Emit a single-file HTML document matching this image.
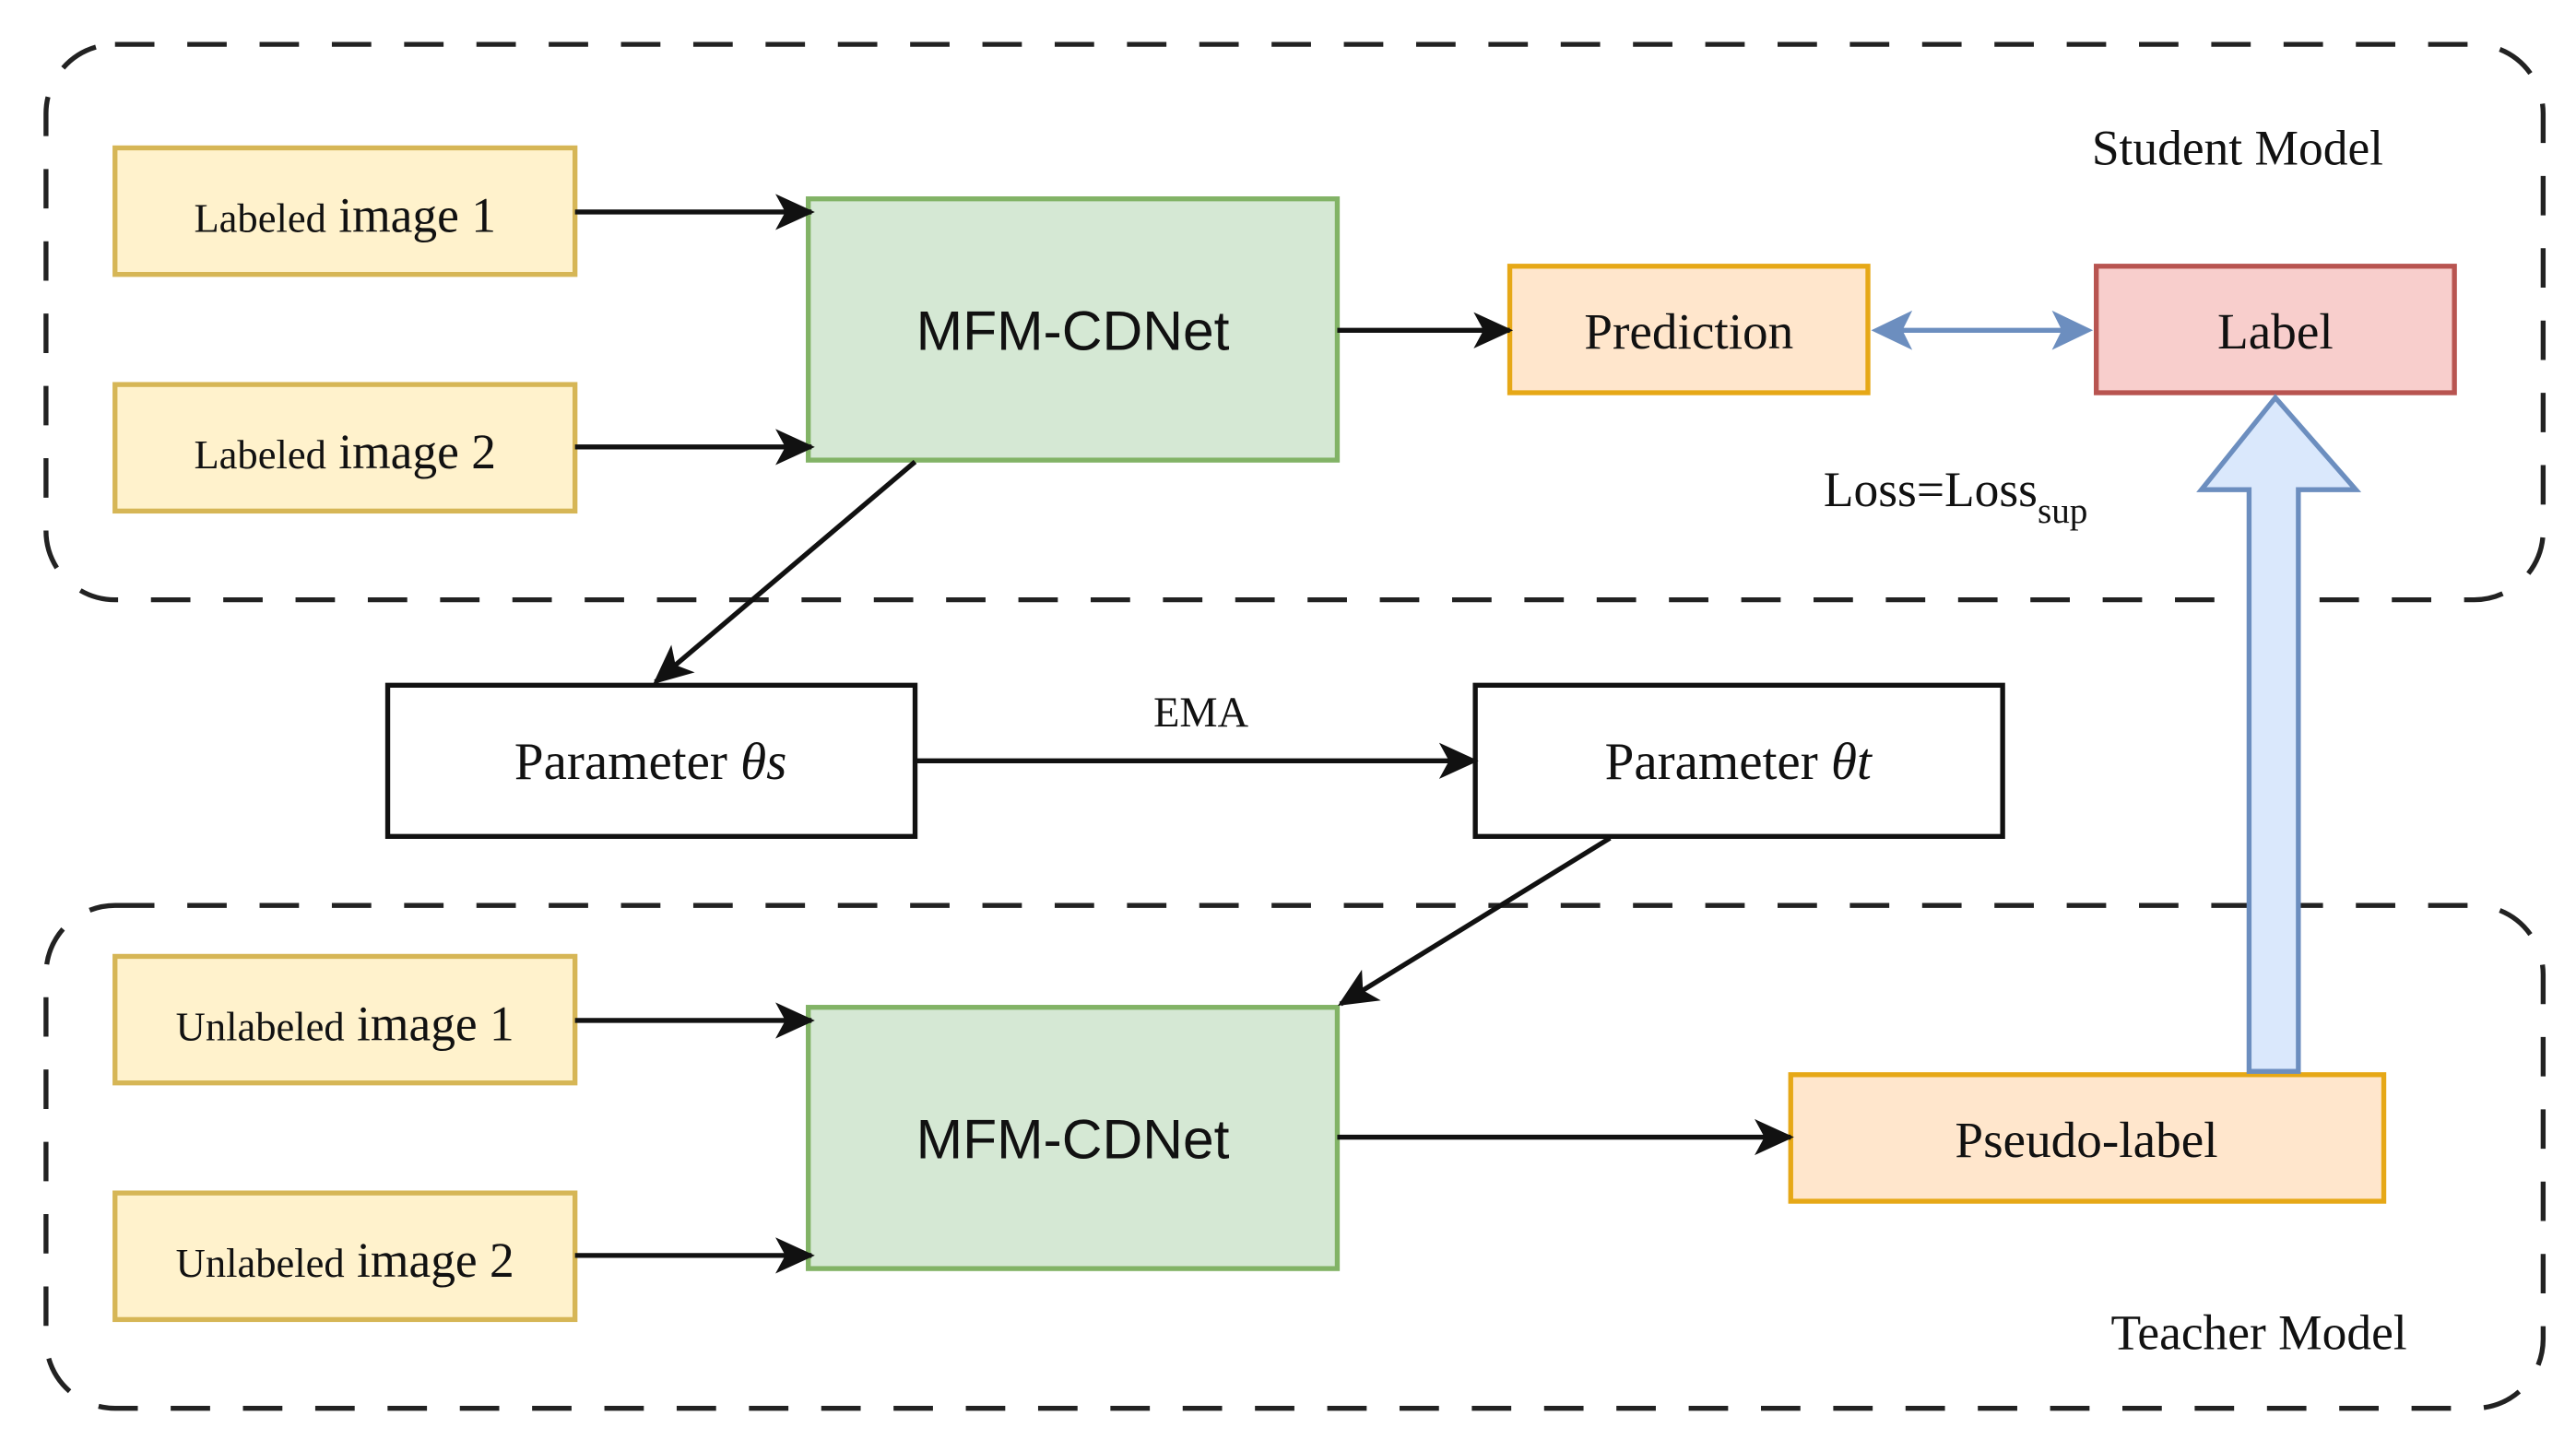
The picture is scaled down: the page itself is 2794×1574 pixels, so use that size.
<!DOCTYPE html>
<html><head><meta charset="utf-8"><style>
html,body{margin:0;padding:0;background:#fff;}
svg{display:block;}
text{font-family:"Liberation Serif",serif;fill:#111;}
.s{font-family:"Liberation Sans",sans-serif;}
</style></head><body>
<svg width="2794" height="1574" viewBox="0 0 1568 883" preserveAspectRatio="none" xmlns="http://www.w3.org/2000/svg">
<defs>
<marker id="a" markerWidth="24" markerHeight="24" refX="22" refY="12" orient="auto" markerUnits="userSpaceOnUse" viewBox="0 0 24 24">
<path d="M0,1 L24,12 L0,23 L6,12 Z" fill="#111"/></marker>
</defs>
<rect x="28" y="27" width="1520" height="338" rx="42" fill="none" stroke="#222" stroke-width="3" stroke-dasharray="24,20"/>
<rect x="28" y="551" width="1520" height="306" rx="42" fill="none" stroke="#222" stroke-width="3" stroke-dasharray="24,20"/>
<text x="1362" y="100" font-size="30" text-anchor="middle">Student Model</text>
<text x="1375" y="821" font-size="30" text-anchor="middle">Teacher Model</text>

<g fill="#fff2cc" stroke="#d6b656" stroke-width="3">
<rect x="70" y="90" width="280" height="77"/>
<rect x="70" y="234" width="280" height="77"/>
<rect x="70" y="582" width="280" height="77"/>
<rect x="70" y="726" width="280" height="77"/>
</g>
<text x="210" y="141" text-anchor="middle"><tspan font-size="25">Labeled</tspan><tspan font-size="30"> image 1</tspan></text>
<text x="210" y="285" text-anchor="middle"><tspan font-size="25">Labeled</tspan><tspan font-size="30"> image 2</tspan></text>
<text x="210" y="633" text-anchor="middle"><tspan font-size="25">Unlabeled</tspan><tspan font-size="30"> image 1</tspan></text>
<text x="210" y="777" text-anchor="middle"><tspan font-size="25">Unlabeled</tspan><tspan font-size="30"> image 2</tspan></text>

<g fill="#d5e8d4" stroke="#82b366" stroke-width="3">
<rect x="492" y="121" width="322" height="159"/>
<rect x="492" y="613" width="322" height="159"/>
</g>
<text class="s" x="653" y="213" font-size="34" text-anchor="middle">MFM-CDNet</text>
<text class="s" x="653" y="705" font-size="34" text-anchor="middle">MFM-CDNet</text>

<rect x="919" y="162" width="218" height="77" fill="#ffe6cc" stroke="#e6a817" stroke-width="3"/>
<text x="1028" y="212" font-size="31" text-anchor="middle">Prediction</text>
<rect x="1276" y="162" width="218" height="77" fill="#f8cecc" stroke="#b85450" stroke-width="3"/>
<text x="1385" y="212" font-size="31" text-anchor="middle">Label</text>
<rect x="1090" y="654" width="361" height="77" fill="#ffe6cc" stroke="#e6a817" stroke-width="3"/>
<text x="1270" y="704" font-size="31" text-anchor="middle">Pseudo-label</text>

<text x="1110" y="308" font-size="30">Loss=Loss<tspan font-size="22" dy="10">sup</tspan></text>

<rect x="236" y="417" width="321" height="92" fill="#fff" stroke="#111" stroke-width="3"/>
<text x="396" y="474" font-size="32" text-anchor="middle">Parameter <tspan font-style="italic">θs</tspan></text>
<rect x="898" y="417" width="321" height="92" fill="#fff" stroke="#111" stroke-width="3"/>
<text x="1058" y="474" font-size="32" text-anchor="middle">Parameter <tspan font-style="italic">θt</tspan></text>
<text x="731" y="442" font-size="26" text-anchor="middle">EMA</text>

<g stroke="#111" stroke-width="3" fill="none" marker-end="url(#a)">
<line x1="350" y1="129" x2="494" y2="129"/>
<line x1="350" y1="272" x2="494" y2="272"/>
<line x1="814" y1="201" x2="919" y2="201"/>
<line x1="557" y1="281" x2="399" y2="415"/>
<line x1="557" y1="463" x2="898" y2="463"/>
<line x1="980" y1="510" x2="816" y2="611"/>
<line x1="350" y1="621" x2="494" y2="621"/>
<line x1="350" y1="764" x2="494" y2="764"/>
<line x1="814" y1="692" x2="1090" y2="692"/>
</g>
<line x1="1155" y1="201" x2="1258" y2="201" stroke="#6c8ebf" stroke-width="3"/>
<path d="M1139,201 L1164,189 L1158,201 L1164,213 Z" fill="#6c8ebf"/>
<path d="M1274,201 L1249,189 L1255,201 L1249,213 Z" fill="#6c8ebf"/>

<path d="M1369,652 L1369,298 L1340,298 L1385,242 L1434,298 L1399,298 L1399,652 Z" fill="#dae8fc" stroke="#6c8ebf" stroke-width="3"/>
</svg>
</body></html>
